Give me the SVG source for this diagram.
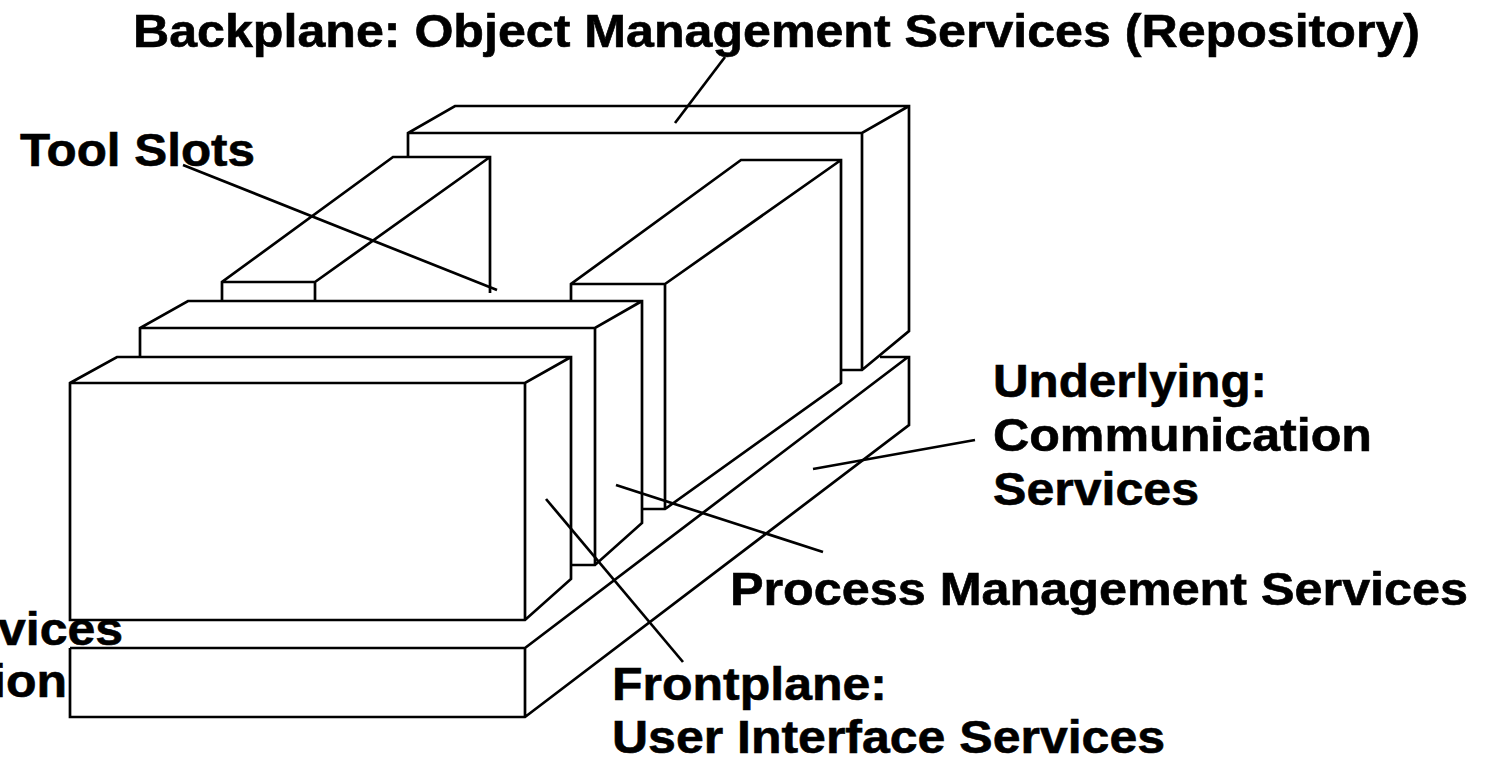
<svg xmlns="http://www.w3.org/2000/svg" width="1485" height="758" viewBox="0 0 1485 758">
<style>
.e{fill:none;stroke:#000;stroke-width:2.7;stroke-linejoin:miter;stroke-linecap:butt}
.t{font-family:"Liberation Sans",Arial,Helvetica,sans-serif;font-weight:bold;font-size:46px;fill:#000;stroke:#000;stroke-width:0.6}
</style>
<rect width="1485" height="758" fill="#fff"/>
<g id="backplane"><path class="e" d="M408,158 V133 L455,106 H909 V331 L862,370 H840 M408,133 H862 L909,106 M862,133 V370"/></g>
<g id="tool-slot-left"><path class="e" d="M222,301 V282 L393,157 H490 V293 M222,282 H315 L490,157 M315,282 V301"/></g>
<g id="tool-slot-right"><path class="e" d="M571,301 V284 L741,160 H841 V383 L665,509 H642 M571,284 H665 L841,160 M665,284 V509"/></g>
<g id="process-management"><path class="e" d="M140,357 V328 L188,301 H642 V523 L595,565 H571 M140,328 H595 L642,301 M595,328 V565"/></g>
<g id="frontplane"><path class="e" d="M70,383 L117,357 H571 V579 L525,620 H70 Z M70,383 H525 L571,357 M525,383 V620"/></g>
<g id="underlying"><path class="e" d="M70,648 V717 H525 L909,425 V357 H880 M70,648 H525 V717 M525,648 L908,357"/></g>
<g id="connectors">
<path class="e" d="M725,57 L675,123"/>
<path class="e" d="M183,165 L497,290"/>
<path class="e" d="M813,469 L975,440"/>
<path class="e" d="M616,485 L823,552"/>
<path class="e" d="M546,499 L683,662"/>
</g>
<g id="labels">
<text class="t" x="133" y="47" textLength="1287" lengthAdjust="spacingAndGlyphs">Backplane: Object Management Services (Repository)</text>
<text class="t" x="20" y="166" textLength="235" lengthAdjust="spacingAndGlyphs">Tool Slots</text>
<text class="t" x="993" y="397" textLength="274" lengthAdjust="spacingAndGlyphs">Underlying:</text>
<text class="t" x="993" y="451" textLength="379" lengthAdjust="spacingAndGlyphs">Communication</text>
<text class="t" x="993" y="505" textLength="206" lengthAdjust="spacingAndGlyphs">Services</text>
<text class="t" x="730" y="605" textLength="738" lengthAdjust="spacingAndGlyphs">Process Management Services</text>
<text class="t" x="612" y="700" textLength="275" lengthAdjust="spacingAndGlyphs">Frontplane:</text>
<text class="t" x="612" y="753" textLength="553" lengthAdjust="spacingAndGlyphs">User Interface Services</text>
<text class="t" x="123" y="645" text-anchor="end" textLength="125" lengthAdjust="spacingAndGlyphs">vices</text>
<text class="t" x="67" y="697" text-anchor="end" textLength="75" lengthAdjust="spacingAndGlyphs">ion</text>
</g>
</svg>
